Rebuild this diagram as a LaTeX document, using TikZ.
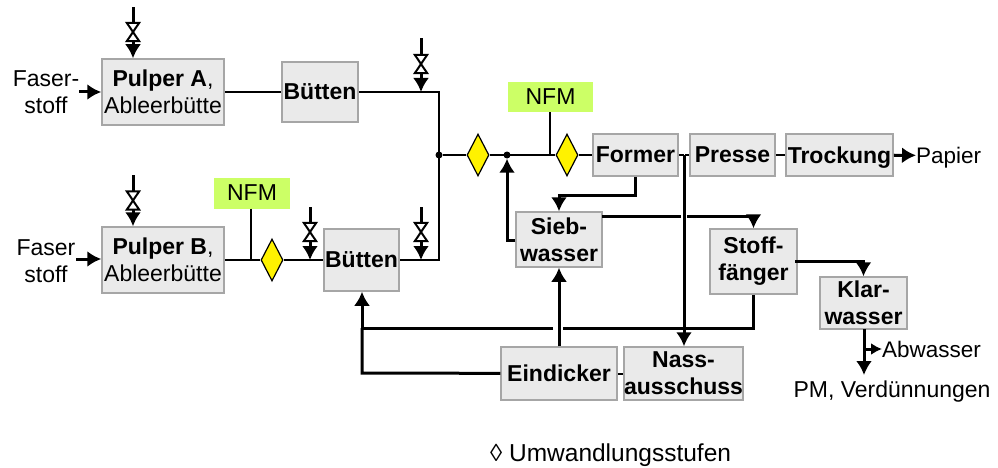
\documentclass[tikz,border=0pt]{standalone}
\usepackage{fontspec}
\setmainfont{Liberation Sans}
\usetikzlibrary{arrows.meta, shapes.geometric}
\definecolor{boxfill}{HTML}{EAEAEA}
\definecolor{boxedge}{HTML}{A6A6A6}
\definecolor{nfmgreen}{HTML}{CCFF66}
\begin{document}
\begin{tikzpicture}[
  x = 1pt, y = -1pt,
  >={Latex[length=14pt,width=16pt]},
  every node/.style = {font=\fontsize{23}{27}\selectfont, inner sep=0pt, align=center},
  unit/.style    = {draw=boxedge, fill=boxfill, line width=1.5pt},
  nfm/.style     = {fill=nfmgreen, minimum width=76pt, minimum height=31pt},
  stage/.style   = {diamond, aspect=0.52, draw=black, fill=yellow, line width=1.2pt, minimum width=22pt, minimum height=42pt},
  valve/.style   = {minimum width=12pt, minimum height=18pt},
  joint/.style   = {circle, fill=black, minimum size=7pt},
  plain/.style   = {font=\fontsize{22.5}{27}\selectfont, text depth=0pt},
  thinline/.style  = {line width=2pt},
  thickline/.style = {line width=3pt},
  smallhead/.style = {>={Latex[length=11pt,width=12pt]}},
]
\useasboundingbox (0,0) rectangle (998,468);

% --- units
\node[unit, minimum width=122pt, minimum height=66pt] (pulperA) at (163,92) {\textbf{Pulper A},\\Ableerbütte};
\node[unit, minimum width=76pt, minimum height=60pt] (buettenA) at (320,92) {\textbf{Bütten}};
\node[unit, minimum width=122pt, minimum height=66pt] (pulperB) at (163,260) {\textbf{Pulper B},\\Ableerbütte};
\node[unit, minimum width=75pt, minimum height=62pt] (buettenB) at (361.5,260) {\textbf{Bütten}};
\node[unit, minimum width=85pt, minimum height=42pt] (former) at (635.5,155) {\textbf{Former}};
\node[unit, minimum width=85pt, minimum height=42pt] (presse) at (732.5,155) {\textbf{Presse}};
\node[unit, text depth=0pt, minimum width=107pt, minimum height=42pt] (trockung) at (839.5,155) {\textbf{Trockung}};
\node[unit, minimum width=86pt, minimum height=55pt] (sieb) at (559,239.5) {\textbf{Sieb-}\\\textbf{wasser}};
\node[unit, minimum width=87pt, minimum height=65pt] (stoff) at (753.5,261.5) {\textbf{Stoff-}\\\textbf{fänger}};
\node[unit, minimum width=87pt, minimum height=52pt] (klar) at (863.5,303) {\textbf{Klar-}\\\textbf{wasser}};
\node[unit, minimum width=116pt, minimum height=53pt] (eindicker) at (559,373.5) {\textbf{Eindicker}};
\node[unit, minimum width=119pt, minimum height=53pt] (nass) at (683.5,373.5) {\textbf{Nass-}\\\textbf{ausschuss}};

% --- additives and conversion stages
\node[nfm] (nfmB) at (252,193) {NFM};
\node[nfm, minimum width=85pt, minimum height=30pt] (nfmA) at (550.5,97) {NFM};
\node[stage] (stageA) at (478,155) {};
\node[stage] (stageB) at (272,260) {};
\node[stage] (stageC) at (567,155) {};
\node[joint] (jointA) at (439,155) {};
\node[joint] (jointB) at (507,155) {};

% --- free texts
\node (faserA) at (46,92) {Faser-\\stoff};
\node (faserB) at (46,261) {Faser\\stoff};
\node[plain, anchor=west] (papier) at (916,155.5) {Papier};
\node[plain, anchor=west] (abwasser) at (882,349) {Abwasser};
\node[text depth=0pt] (pm) at (892,389) {PM, Verdünnungen};
\node[plain, font=\fontsize{24.5}{27}\selectfont, anchor=west] (legend) at (490,453) {◊ Umwandlungsstufen};

% --- free ends
\coordinate (feedA) at (79,92);
\coordinate (feedB) at (76,259);
\coordinate (bendA) at (439,260);
\coordinate (nfmBin) at (251,260);
\coordinate (nfmAin) at (550,155);
\coordinate (crossT) at (684,155);
\coordinate (crossL) at (681,216);
\coordinate (crossR) at (687,216);
\coordinate (siebout) at (602,216);
\coordinate (stoffout) at (795,261);
\coordinate (sieback) at (507,240);
\coordinate (formerout) at (635.5,195);
\coordinate (returnR) at (753.5,328);
\coordinate (returnM) at (563,328);
\coordinate (returnN) at (553,328);
\coordinate (returnL) at (362,328);
\coordinate (eindickL) at (362,373);
\coordinate (klarT) at (864,329);
\coordinate (klarM) at (864,349);
\coordinate (klarB) at (864,375);

% --- thin main line
\draw[thinline] (pulperA) -- (buettenA);
\draw[thinline] (buettenA) -| (bendA) -- (buettenB);
\draw[thinline] (pulperB) -- (stageB);
\draw[thinline] (stageB) -- (buettenB);
\draw[thinline] (nfmB.south -| nfmBin) -- (nfmBin);
\draw[thinline] (jointA) -- (stageA);
\draw[thinline] (stageA) -- (stageC);
\draw[thinline] (stageC) -- (former);
\draw[thinline] (nfmA.south -| nfmAin) -- (nfmAin);
\draw[thinline] (former.east) -- (crossT);
\draw[thinline] (crossT -| presse.west) -- ++(-4,0);
\draw[thinline] (presse) -- (trockung);
\draw[thinline] (eindicker) -- (nass);

% --- thick flows
\draw[thickline,->] (feedA) -- (pulperA);
\draw[thickline,->] (feedB) -- (feedB -| pulperB.west);
\draw[thickline,->] (trockung) -- (papier);
\draw[thickline,->] (sieb.west |- sieback) -- (sieback) -- (jointB);
\draw[thickline,->] (former.south) -- (formerout) -| (sieb.north);
\draw[thickline] (siebout) -- (crossL);
\draw[thickline,->] (crossR) -| (stoff.north);
\draw[thickline,->] (crossT) -- (crossT |- nass.north);
\draw[thickline,->] (stoffout) -| (klar.north);
\draw[thickline] (stoff.south) -- (returnR) -- (returnM);
\draw[thickline,->] (returnN) -- (returnL) -- (buettenB.south -| returnL);
\draw[thickline] (eindicker) -- (eindickL) -- (returnL);
\draw[thickline,->] (eindicker) -- (sieb);
\draw[thickline,->] (klarT) -- (klarB);
\draw[thickline,smallhead,->] (klarM) -- (abwasser);

% --- valves
\foreach \name/\vx/\vy/\vtop/\target in {valveA/133/32/7/pulperA.north, valveB/133/200.5/175/pulperB.north, valveC/421/64/38/buettenA.east, valveD/310/232/207/buettenB.east, valveE/421/232/207/buettenB.east} {
  \node[valve] (\name) at (\vx,\vy) {};
  \draw[thickline] (\name.north) -- (\vx,\vtop);
  \draw[thickline,->] (\name.south) -- (\name.south |- \target);
  \draw[thinline, fill=white] (\name.north west) -- (\name.south east) -- (\name.south west) -- (\name.north east) -- cycle;
}
\end{tikzpicture}
\end{document}
